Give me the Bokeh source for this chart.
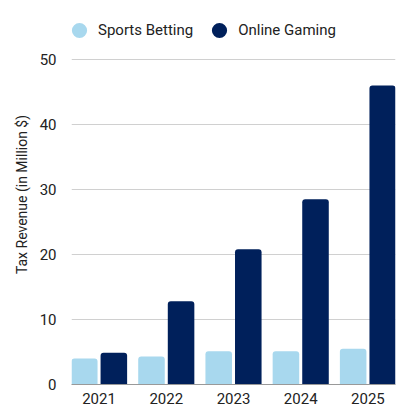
from bokeh.plotting import figure
from bokeh.models import ColumnDataSource, FactorRange, Legend, LegendItem, Range1d
from bokeh.transform import dodge
from bokeh.embed import file_html
from bokeh.resources import INLINE

years = ["2021", "2022", "2023", "2024", "2025"]
sports_betting = [4.0, 4.3, 5.1, 5.1, 5.5]
online_gaming = [4.9, 12.8, 20.8, 28.5, 46.0]
y_ticks = [0, 10, 20, 30, 40, 50]

SPORTS_COLOR = "#a8d8ee"
ONLINE_COLOR = "#00205b"
FONT = "Roboto"

source = ColumnDataSource(data=dict(years=years, sports=sports_betting, online=online_gaming))

x_range = FactorRange(factors=years, range_padding=-0.09, range_padding_units="absolute")
# the frame reaches up to hold the legend; the axis itself stays 0..50
y_range = Range1d(0, 58.46)

p = figure(
    x_range=x_range, y_range=y_range,
    width=411, height=410,
    frame_width=324, frame_height=380,
    min_border_left=71, min_border_top=4, min_border_right=16, min_border_bottom=26,
    output_backend="svg", toolbar_location=None,
)
p.outline_line_color = None
p.background_fill_color = "white"
p.border_fill_color = "white"

r1 = p.vbar(x=dodge("years", -0.22, range=p.x_range), top="sports", width=0.395,
            source=source, fill_color=SPORTS_COLOR, line_color=None,
            border_radius=[3, 3, 0, 0])
r2 = p.vbar(x=dodge("years", 0.22, range=p.x_range), top="online", width=0.395,
            source=source, fill_color=ONLINE_COLOR, line_color=None,
            border_radius=[3, 3, 0, 0])

# zero-size markers used only for the circular legend swatches
m1 = p.scatter(x=dodge("years", -0.22, range=p.x_range), y="sports", source=source,
               marker="circle", size=0, fill_color=SPORTS_COLOR, line_color=None)
m2 = p.scatter(x=dodge("years", 0.22, range=p.x_range), y="online", source=source,
               marker="circle", size=0, fill_color=ONLINE_COLOR, line_color=None)

legend = Legend(
    items=[LegendItem(label="Sports Betting", renderers=[m1]),
           LegendItem(label="Online Gaming", renderers=[m2])],
    orientation="horizontal",
    location=(-11, 335),
    glyph_width=38, glyph_height=38,
    label_standoff=0, spacing=7, padding=0, margin=0,
    label_text_font=FONT, label_text_font_size="15px", label_text_color="#222222",
    border_line_color=None, background_fill_alpha=0,
)
p.add_layout(legend, "center")

# axes
p.yaxis.ticker = y_ticks
p.yaxis.bounds = (0, 50)
p.yaxis.axis_label = "Tax Revenue (in Million $)"
p.yaxis.axis_label_text_font = FONT
p.yaxis.axis_label_text_font_style = "normal"
p.yaxis.axis_label_text_font_size = "14px"
p.yaxis.axis_label_text_color = "#222222"
p.yaxis.axis_label_standoff = 7
p.yaxis.axis_line_color = None
p.yaxis.major_tick_line_color = None
p.yaxis.minor_tick_line_color = None
p.yaxis.major_label_standoff = 9
p.yaxis.major_label_text_font = FONT
p.yaxis.major_label_text_font_size = "15px"
p.yaxis.major_label_text_color = "#222222"

p.xaxis.axis_line_color = "#999999"
p.xaxis.axis_line_width = 1
p.xaxis.major_tick_line_color = None
p.xaxis.minor_tick_line_color = None
p.xaxis.major_label_standoff = 2
p.xaxis.major_label_text_font = FONT
p.xaxis.major_label_text_font_size = "15px"
p.xaxis.major_label_text_color = "#222222"

p.xgrid.grid_line_color = None
p.ygrid.grid_line_color = "#d0d0d0"
p.ygrid.grid_line_width = 1

open("out.html", "w").write(file_html(p, INLINE))
